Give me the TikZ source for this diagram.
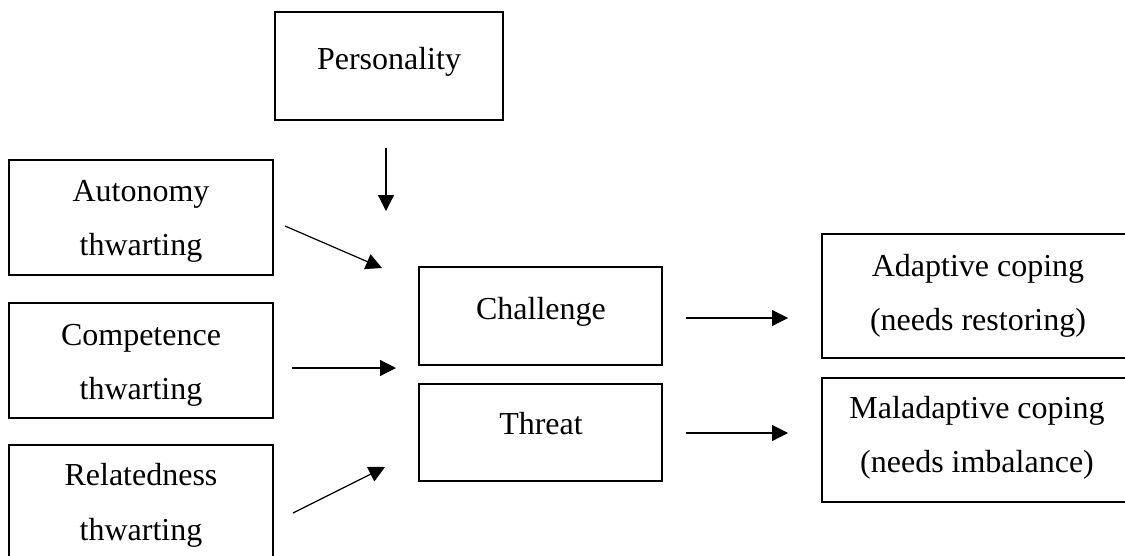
\documentclass[tikz,border=0pt]{standalone}
\usepackage{fontspec}
\setmainfont{Liberation Serif}
\usetikzlibrary{arrows.meta,calc}

\tikzset{
  box/.style={draw=black, line width=2.2pt, rectangle, inner sep=0pt, outer sep=0pt},
  txt/.style={anchor=base, inner sep=0pt, font=\fontsize{32}{38}\selectfont},
  arr/.style={draw=black, line width=1.2pt, -{Triangle[length=16pt,width=16pt]}}
}

\begin{document}
\begin{tikzpicture}[x=1pt, y=-1pt]
  \useasboundingbox (0,0) rectangle (1125,555);

  % boxes
  \node[box, minimum width=228pt, minimum height=108pt] (pers) at (389,66) {};
  \node[box, minimum width=264pt, minimum height=115pt] (aut)  at (141,217.5) {};
  \node[box, minimum width=264pt, minimum height=115pt] (comp) at (141,360.5) {};
  \node[box, minimum width=264pt, minimum height=130pt] (rel)  at (141,510) {};
  \node[box, minimum width=243pt, minimum height=98pt]  (chal) at (540.5,316) {};
  \node[box, minimum width=243pt, minimum height=97pt]  (thr)  at (540.5,432.5) {};
  \node[box, minimum width=313pt, minimum height=124pt] (adap) at (978.5,296) {};
  \node[box, minimum width=313pt, minimum height=124pt] (mal)  at (978.5,440) {};

  % labels
  \node[txt] (pers-t)  at (389,69)  {Personality};
  \node[txt] (aut-t1)  at (141,201) {Autonomy};
  \node[txt] (aut-t2)  at (141,255) {thwarting};
  \node[txt] (comp-t1) at (141,345) {Competence};
  \node[txt] (comp-t2) at (141,399) {thwarting};
  \node[txt] (rel-t1)  at (141,485) {Relatedness};
  \node[txt] (rel-t2)  at (141,540) {thwarting};
  \node[txt] (chal-t)  at (541,319) {Challenge};
  \node[txt] (thr-t)   at (541,434) {Threat};
  \node[txt] (adap-t1) at (978,276) {Adaptive coping};
  \node[txt] (adap-t2) at (978,330) {(needs restoring)};
  \node[txt] (mal-t1)  at (977,418) {Maladaptive coping};
  \node[txt] (mal-t2)  at (977,472) {(needs imbalance)};

  % connectors
  \draw[arr] ($(pers.south)+(-3,28)$) -- ($(chal.north west)+(-33,-56)$);
  \draw[arr] ($(aut.east)+(12,8.5)$) -- ($(chal.west)+(-37,-48)$);
  \draw[arr] ($(comp.east)+(19,7.5)$) -- ($(chal.south west)+(-23,3)$);
  \draw[arr] ($(rel.east)+(20,3)$) -- ($(thr.west)+(-34,34.5)$);
  \draw[arr] ($(chal.east)+(24,2)$) -- ($(adap.west)+(-34,22)$);
  \draw[arr] ($(thr.east)+(24,0.5)$) -- ($(mal.west)+(-34,-7)$);
\end{tikzpicture}
\end{document}
